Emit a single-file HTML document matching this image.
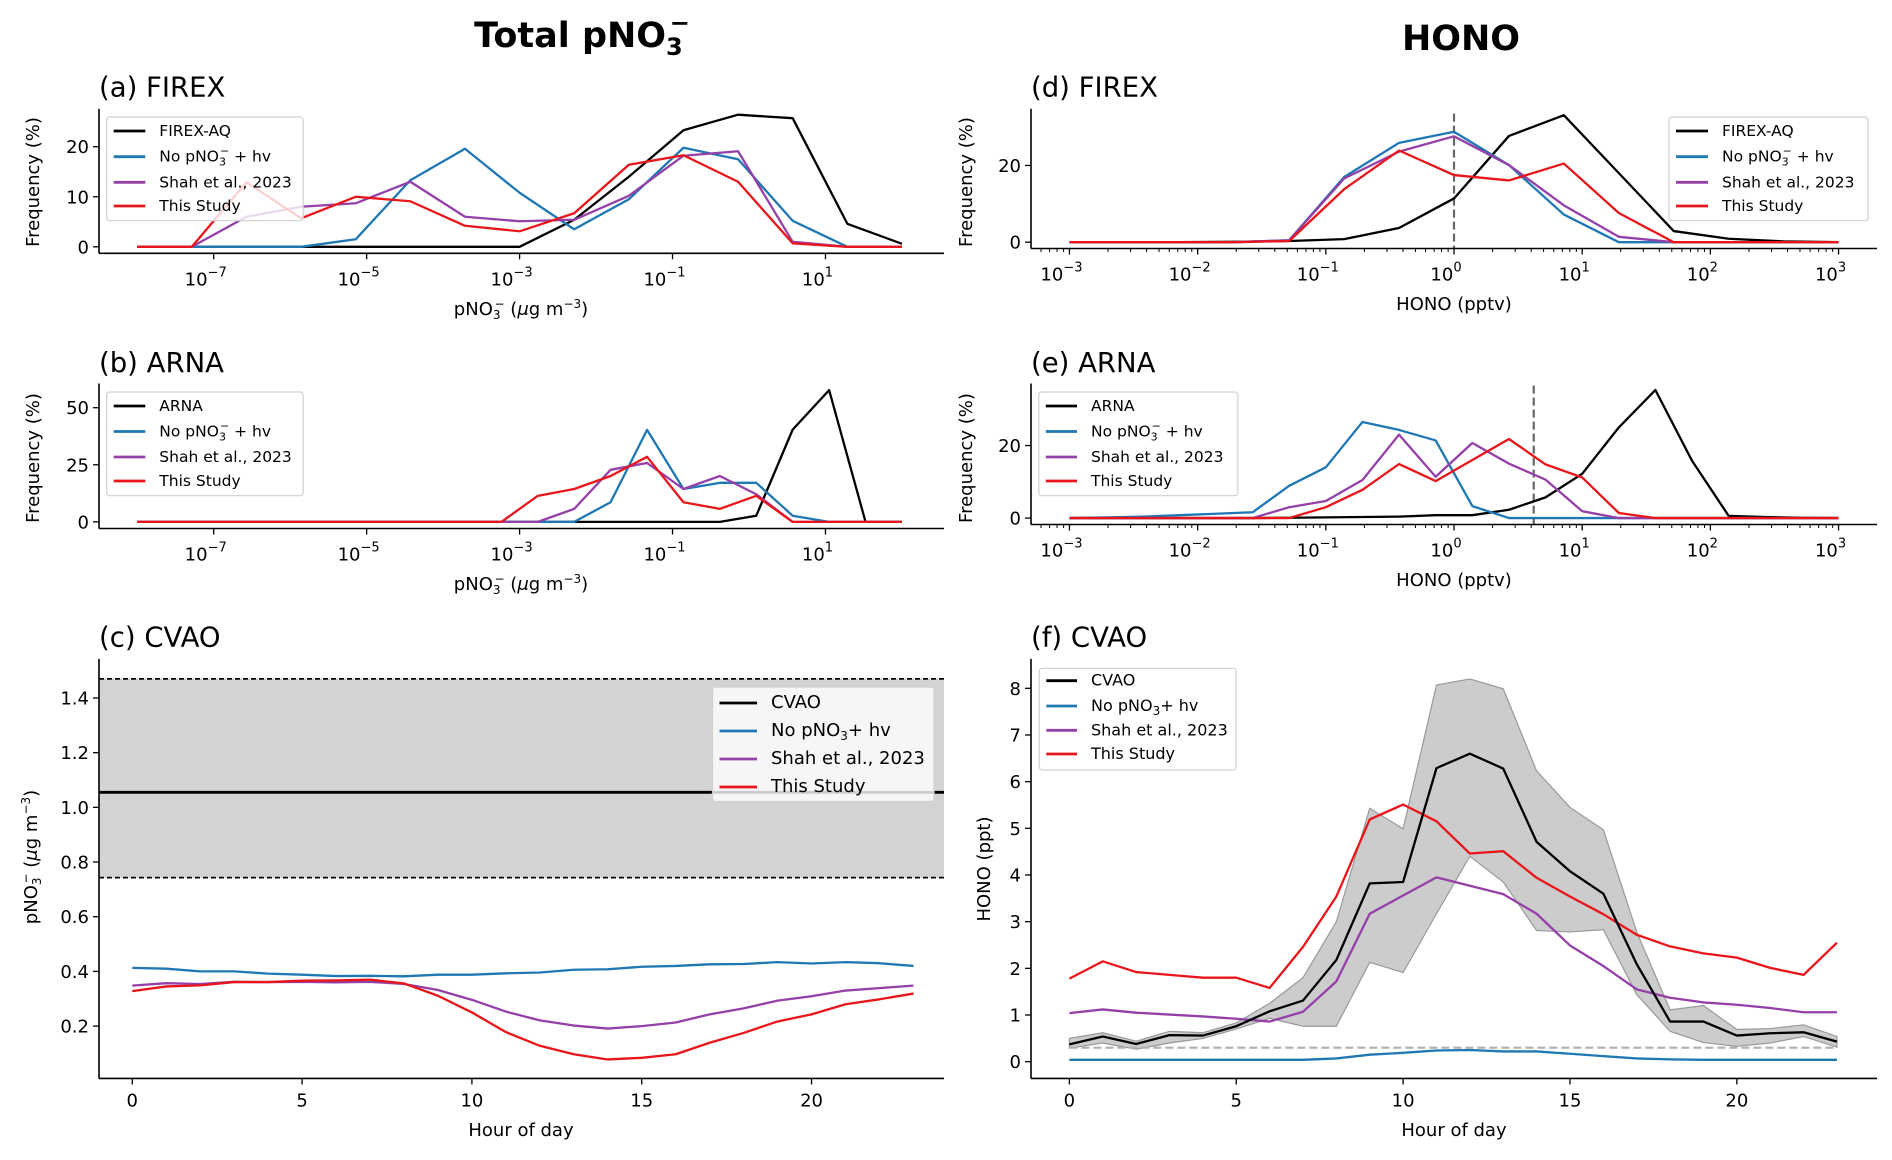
<!DOCTYPE html>
<html><head><meta charset="utf-8"><title>pNO3 and HONO comparison</title>
<style>
html,body{margin:0;padding:0;background:#fff;}
svg{display:block;font-family:"DejaVu Sans","Liberation Sans",sans-serif;}
</style></head>
<body>
<svg id="fig" width="1892" height="1160" viewBox="0 0 1892 1160" xmlns="http://www.w3.org/2000/svg">
<text x="582" y="47" font-size="35" font-weight="bold" text-anchor="middle">Total pNO<tspan font-size="24" dy="8">3</tspan><tspan font-size="24" dx="-13" dy="-24">−</tspan></text>
<text x="1461" y="50" font-size="35" font-weight="bold" text-anchor="middle">HONO</text>
</svg>
<script>
// ---------- data ----------
// panel a (FIREX pNO3), bins log10 exponents from -8 to 2, 15 bins
const aBins = [-8,-7.286,-6.571,-5.857,-5.143,-4.429,-3.714,-3,-2.286,-1.571,-0.857,-0.143,0.571,1.286,2];
const aObs    = [0,0,0,0,0,0,0,0,5.4,14,23.3,26.4,25.7,4.6,0.6];
const aNoHv   = [0,0,0,0,1.5,13.3,19.6,10.8,3.5,9.5,19.8,17.5,5.2,0,0];
const aShah   = [0,0,6.0,8.0,8.7,13,6,5.1,5.4,10.2,18.2,19.1,1,0,0];
const aThis   = [0,0,12.9,5.7,10,9.1,4.2,3.1,6.7,16.4,18.3,13,0.7,0,0];
// panel b (ARNA pNO3), 22 bins from -8 to 2
const bBins = [-8,-7.524,-7.048,-6.571,-6.095,-5.619,-5.143,-4.667,-4.190,-3.714,-3.238,-2.762,-2.286,-1.810,-1.333,-0.857,-0.381,0.095,0.571,1.048,1.524,2];
const bObs  = [0,0,0,0,0,0,0,0,0,0,0,0,0,0,0,0,0,2.7,40.4,57.7,0,0];
const bNoHv = [0,0,0,0,0,0,0,0,0,0,0,0,0,8.6,40.3,14.4,17.1,17.1,2.7,0,0,0];
const bShah = [0,0,0,0,0,0,0,0,0,0,0,0,5.7,22.8,25.8,14.4,20.1,12.1,0,0,0,0];
const bThis = [0,0,0,0,0,0,0,0,0,0,0,11.4,14.4,20.1,28.5,8.6,5.7,11.4,0,0,0,0];
// panel d (FIREX HONO), 15 bins -3..3
const dBins = [-3,-2.571,-2.143,-1.714,-1.286,-0.857,-0.429,0,0.429,0.857,1.286,1.714,2.143,2.571,3];
const dObs  = [0,0,0,0.1,0.3,0.8,3.7,11.4,27.7,33.1,18,2.9,0.9,0.2,0];
const dNoHv = [0,0,0,0,0.5,17,25.9,28.8,20.1,7.2,0,0,0,0,0];
const dShah = [0,0,0,0,0.5,16.6,23.6,27.6,20.1,9.6,1.4,0,0,0,0];
const dThis = [0,0,0,0,0.3,13.8,23.9,17.5,16.1,20.5,7.6,0,0,0,0];
const dRef = [0];
// panel e (ARNA HONO), 22 bins -3..3
const eBins = [-3,-2.714,-2.429,-2.143,-1.857,-1.571,-1.286,-1,-0.714,-0.429,-0.143,0.143,0.429,0.714,1,1.286,1.571,1.857,2.143,2.429,2.714,3];
const eObs  = [0,0,0,0,0,0,0.1,0.2,0.3,0.4,0.8,0.8,2.3,5.7,12.2,25,35.3,15.8,0.6,0.3,0.1,0];
const eNoHv = [0,0.2,0.4,0.8,1.2,1.6,8.9,14,26.5,24.3,21.4,3.3,0,0,0,0,0,0,0,0,0,0];
const eShah = [0,0,0,0,0,0,3,4.7,10.5,23,11.4,20.7,15,10.6,1.9,0,0,0,0,0,0,0];
const eThis = [0,0,0,0,0,0,0,3,7.8,14.9,10.2,16,21.8,14.8,11.2,1.4,0,0,0,0,0,0];
const eRef = [0.622];
// panels c and f: hour of day
const hours = [0,1,2,3,4,5,6,7,8,9,10,11,12,13,14,15,16,17,18,19,20,21,22,23];
const cNoHv = [0.413,0.41,0.40,0.40,0.392,0.388,0.383,0.384,0.382,0.388,0.388,0.393,0.396,0.406,0.408,0.417,0.42,0.426,0.427,0.434,0.429,0.434,0.43,0.42];
const cShah = [0.348,0.357,0.354,0.362,0.361,0.362,0.36,0.362,0.354,0.332,0.296,0.253,0.221,0.202,0.191,0.2,0.213,0.243,0.265,0.293,0.309,0.33,0.339,0.348];
const cThis = [0.328,0.345,0.349,0.361,0.361,0.366,0.367,0.37,0.356,0.311,0.25,0.178,0.128,0.097,0.078,0.084,0.097,0.139,0.175,0.217,0.243,0.28,0.298,0.319];
const cObsMean = [1.055];
const cObsRange = [0.743,1.47];
const fObs   = [0.37,0.54,0.38,0.57,0.56,0.76,1.08,1.31,2.18,3.82,3.85,6.29,6.6,6.28,4.71,4.08,3.6,2.09,0.86,0.86,0.56,0.61,0.63,0.43];
const fObsHi = [0.5,0.62,0.44,0.65,0.62,0.83,1.25,1.8,3.0,5.43,4.99,8.07,8.2,7.99,6.23,5.45,4.97,2.78,1.11,1.2,0.69,0.71,0.79,0.54];
const fObsLo = [0.29,0.4,0.27,0.4,0.5,0.7,0.93,0.76,0.76,2.13,1.91,3.17,4.4,3.85,2.81,2.78,2.83,1.44,0.65,0.41,0.33,0.4,0.54,0.31];
const fThis  = [1.78,2.15,1.92,1.86,1.8,1.8,1.58,2.46,3.54,5.19,5.51,5.15,4.46,4.51,3.94,3.54,3.16,2.72,2.47,2.32,2.23,2.01,1.86,2.55];
const fShah  = [1.04,1.12,1.05,1.01,0.97,0.92,0.86,1.07,1.72,3.17,3.56,3.95,3.77,3.59,3.17,2.49,2.05,1.55,1.37,1.27,1.22,1.15,1.06,1.06];
const fNoHv  = [0.04,0.04,0.04,0.04,0.04,0.04,0.04,0.04,0.07,0.15,0.19,0.24,0.25,0.22,0.22,0.17,0.12,0.07,0.05,0.04,0.04,0.04,0.04,0.04];
const fLimit = [0.3];
const logTicksAB = [-7,-5,-3,-1,1];
const logTicksDE = [-3,-2,-1,0,1,2,3];
const yTicksA = [0,10,20];
const yTicksB = [0,25,50];
const yTicksD = [0,20];
const yTicksE = [0,20];
const yTicksC = [0.2,0.4,0.6,0.8,1.0,1.2,1.4];
const yTicksF = [0,1,2,3,4,5,6,7,8];
const hourTicks = [0,5,10,15,20];

// ---------- drawing ----------
const NS = 'http://www.w3.org/2000/svg';
const svg = document.getElementById('fig');
const COL = {black:'#000000', blue:'#1f77b4', purple:'#9440a8', red:'#e8161b'};
function mk(tag, attrs, parent){
  const el = document.createElementNS(NS, tag);
  for (const k in attrs) el.setAttribute(k, attrs[k]);
  (parent||svg).appendChild(el);
  return el;
}
function axis(x0,x1,y0,y1,xmin,xmax,ymin,ymax){
  return {
    sx: v => x0 + (v - xmin) / (xmax - xmin) * (x1 - x0),
    sy: v => y1 - (v - ymin) / (ymax - ymin) * (y1 - y0),
    x0, x1, y0, y1
  };
}
function pathD(xs, ys, ax){
  return xs.map((x,i)=>(i?'L':'M')+ax.sx(x).toFixed(2)+','+ax.sy(ys[i]).toFixed(2)).join(' ');
}
function series(xs, ys, ax, color, name, w){
  const p = mk('path',{d:pathD(xs,ys,ax),fill:'none',stroke:color,'stroke-width':w||2.3,'stroke-linejoin':'round'});
  
  
  return p;
}
function spines(ax, pname){
  const l = mk('line',{x1:ax.x0,y1:ax.y0,x2:ax.x0,y2:ax.y1,stroke:'#000','stroke-width':1.6});
  
  
  const b = mk('line',{x1:ax.x0,y1:ax.y1,x2:ax.x1,y2:ax.y1,stroke:'#000','stroke-width':1.6});
  
  
}
function yTicks(ax, ticks, pname, fmt){
  ticks.forEach(t=>{
    const y = ax.sy(t);
    mk('line',{x1:ax.x0-6,y1:y,x2:ax.x0,y2:y,stroke:'#000','stroke-width':1.3});
    const tx = mk('text',{x:ax.x0-10,y:y+6.5,'font-size':18,'text-anchor':'end'});
    
    
    tx.textContent = fmt ? fmt(t) : String(t);
  });
}
function xTicksLin(ax, ticks, pname){
  ticks.forEach(t=>{
    const x = ax.sx(t);
    mk('line',{x1:x,y1:ax.y1,x2:x,y2:ax.y1+6,stroke:'#000','stroke-width':1.3});
    const tx = mk('text',{x:x,y:ax.y1+28,'font-size':18,'text-anchor':'middle'});
    
    
    tx.textContent = String(t);
  });
}
function xTicksLog(ax, ticks, pname, minor){
  ticks.forEach(t=>{
    const x = ax.sx(t);
    mk('line',{x1:x,y1:ax.y1,x2:x,y2:ax.y1+6,stroke:'#000','stroke-width':1.3});
    const tx = mk('text',{x:x-8,y:ax.y1+32,'font-size':18,'text-anchor':'middle'});
    
    
    const base = document.createElementNS(NS,'tspan'); base.textContent='10'; tx.appendChild(base);
    const ex = document.createElementNS(NS,'tspan');
    ex.setAttribute('dy','-9'); ex.setAttribute('font-size','13');
    ex.textContent = (t<0?'−':'') + Math.abs(t);
    tx.appendChild(ex);
  });
  if (minor){
    for (let d = Math.floor(ax.lmin); d < ax.lmax; d++){
      for (let m = 2; m < 10; m++){
        const lv = d + Math.log10(m);
        if (lv < ax.lmin || lv > ax.lmax) continue;
        const x = ax.sx(lv);
        mk('line',{x1:x,y1:ax.y1,x2:x,y2:ax.y1+3.5,stroke:'#000','stroke-width':1});
      }
    }
  }
}
function label(x,y,txt,pname,size,rot,anchor){
  const t = mk('text',{x:x,y:y,'font-size':size||18,'text-anchor':anchor||'middle'});
  if (rot) t.setAttribute('transform','rotate(-90 '+x+' '+y+')');
  
  
  t.innerHTML = txt;
  return t;
}
function legend(x,y,w,h,entries,rows,textX,pname,fs){
  const g = mk('g',{});
  
  
  mk('rect',{x:x,y:y,width:w,height:h,rx:3,fill:'#ffffff','fill-opacity':0.8,stroke:'#d0d0d0','stroke-width':1.2},g);
  entries.forEach((e,i)=>{
    const yy = rows[i];
    mk('line',{x1:x+7,y1:yy-5,x2:textX-14,y2:yy-5,stroke:e[0],'stroke-width':2.8},g);
    const t = mk('text',{x:textX,y:yy,'font-size':fs||15.5},g);
    
    
    t.innerHTML = e[1];
  });
}
const noHvSup = 'No pNO<tspan font-size="11" dy="4">3</tspan><tspan font-size="11" dx="-6" dy="-11">−</tspan><tspan dy="7"> + hv</tspan>';
const noHvSub = 'No pNO<tspan font-size="12" dy="4">3</tspan><tspan dy="-4">+ hv</tspan>';
const pno3Label = 'pNO<tspan font-size="12" dy="4">3</tspan><tspan font-size="12" dx="-6" dy="-11">−</tspan><tspan dy="7">  (</tspan><tspan font-style="italic">μ</tspan>g m<tspan font-size="12" dy="-7">−3</tspan><tspan dy="7">)</tspan>';

// ----- Panel a -----
(function(){
  const ax = axis(99,944,108.7,253.3,-8.5,2.55,-1.3,27.6);
  ax.lmin=-8.5; ax.lmax=2.55;
  label(99,96.7,'(a) FIREX','panel-a-title',27.5,false,'start');
  series(aBins,aObs,ax,COL.black,'a-firex-aq-line');
  series(aBins,aNoHv,ax,COL.blue,'a-no-pno3-hv-line');
  series(aBins,aShah,ax,COL.purple,'a-shah-2023-line');
  series(aBins,aThis,ax,COL.red,'a-this-study-line');
  spines(ax,'a'); yTicks(ax,yTicksA,'a'); xTicksLog(ax,logTicksAB,'a',false);
  label(521,315,pno3Label,'a-x-axis-title',18);
  label(39,182,'Frequency (%)','a-y-axis-title',18,true);
  legend(106.7,117,196.5,103.7,[[COL.black,'FIREX-AQ'],[COL.blue,noHvSup],[COL.purple,'Shah et al., 2023'],[COL.red,'This Study']],[136,161.7,187.3,211],159.3,'a');
})();
// ----- Panel b -----
(function(){
  const ax = axis(99,944,383.5,528.5,-8.5,2.55,-2.9,60.6);
  ax.lmin=-8.5; ax.lmax=2.55;
  label(99,372,'(b) ARNA','panel-b-title',27.5,false,'start');
  series(bBins,bObs,ax,COL.black,'b-arna-line');
  series(bBins,bNoHv,ax,COL.blue,'b-no-pno3-hv-line');
  series(bBins,bShah,ax,COL.purple,'b-shah-2023-line');
  series(bBins,bThis,ax,COL.red,'b-this-study-line');
  spines(ax,'b'); yTicks(ax,yTicksB,'b'); xTicksLog(ax,logTicksAB,'b',false);
  label(521,590,pno3Label,'b-x-axis-title',18);
  label(39,458,'Frequency (%)','b-y-axis-title',18,true);
  legend(106.7,392,196.5,103.7,[[COL.black,'ARNA'],[COL.blue,noHvSup],[COL.purple,'Shah et al., 2023'],[COL.red,'This Study']],[411,436.5,462,486],159.3,'b');
})();
// ----- Panel d -----
(function(){
  const ax = axis(1031,1877,108.7,248.5,-3.3,3.3,-1.65,34.8);
  ax.lmin=-3.3; ax.lmax=3.3;
  label(1031,96.7,'(d) FIREX','panel-d-title',27.5,false,'start');
  const dl = mk('line',{x1:ax.sx(dRef[0]),y1:ax.sy(33.5),x2:ax.sx(dRef[0]),y2:ax.y1,stroke:'#666','stroke-width':2.2,'stroke-dasharray':'8,4'});
  
  
  series(dBins,dObs,ax,COL.black,'d-firex-aq-line');
  series(dBins,dNoHv,ax,COL.blue,'d-no-pno3-hv-line');
  series(dBins,dShah,ax,COL.purple,'d-shah-2023-line');
  series(dBins,dThis,ax,COL.red,'d-this-study-line');
  spines(ax,'d'); yTicks(ax,yTicksD,'d'); xTicksLog(ax,logTicksDE,'d',true);
  label(1454,310,'HONO (pptv)','d-x-axis-title',18);
  label(972,182,'Frequency (%)','d-y-axis-title',18,true);
  legend(1669,117,199,103.7,[[COL.black,'FIREX-AQ'],[COL.blue,noHvSup],[COL.purple,'Shah et al., 2023'],[COL.red,'This Study']],[136,161.7,187.3,211],1722,'d');
})();
// ----- Panel e -----
(function(){
  const ax = axis(1031,1877,383.5,524.5,-3.3,3.3,-1.77,37.1);
  ax.lmin=-3.3; ax.lmax=3.3;
  label(1031,372,'(e) ARNA','panel-e-title',27.5,false,'start');
  const dl = mk('line',{x1:ax.sx(eRef[0]),y1:ax.sy(36.5),x2:ax.sx(eRef[0]),y2:ax.y1,stroke:'#666','stroke-width':2.2,'stroke-dasharray':'8,4'});
  
  
  series(eBins,eObs,ax,COL.black,'e-arna-line');
  series(eBins,eNoHv,ax,COL.blue,'e-no-pno3-hv-line');
  series(eBins,eShah,ax,COL.purple,'e-shah-2023-line');
  series(eBins,eThis,ax,COL.red,'e-this-study-line');
  spines(ax,'e'); yTicks(ax,yTicksE,'e'); xTicksLog(ax,logTicksDE,'e',true);
  label(1454,586,'HONO (pptv)','e-x-axis-title',18);
  label(972,458,'Frequency (%)','e-y-axis-title',18,true);
  legend(1038.8,392,199,103.7,[[COL.black,'ARNA'],[COL.blue,noHvSup],[COL.purple,'Shah et al., 2023'],[COL.red,'This Study']],[411,436.5,462,486],1091,'e');
})();
// ----- Panel c -----
(function(){
  const ax = axis(99,944,658.9,1078.4,-0.98,23.9,0.0087,1.543);
  label(99,646.4,'(c) CVAO','panel-c-title',27.5,false,'start');
  const band = mk('rect',{x:ax.x0,y:ax.sy(cObsRange[1]),width:ax.x1-ax.x0,height:ax.sy(cObsRange[0])-ax.sy(cObsRange[1]),fill:'#d3d3d3'});
  
  
  cObsRange.forEach(v=>{
    const l = mk('line',{x1:ax.x0,y1:ax.sy(v),x2:ax.x1,y2:ax.sy(v),stroke:'#000','stroke-width':1.8,'stroke-dasharray':'5,3'});
    
    
  });
  const ml = mk('line',{x1:ax.x0,y1:ax.sy(cObsMean[0]),x2:ax.x1,y2:ax.sy(cObsMean[0]),stroke:'#000','stroke-width':2.8});
  
  
  series(hours,cNoHv,ax,COL.blue,'c-no-pno3-hv-line');
  series(hours,cShah,ax,COL.purple,'c-shah-2023-line');
  series(hours,cThis,ax,COL.red,'c-this-study-line');
  spines(ax,'c'); yTicks(ax,yTicksC,'c',t=>t.toFixed(1)); xTicksLin(ax,hourTicks,'c');
  label(521,1136,'Hour of day','c-x-axis-title',18);
  label(37,857,'pNO<tspan font-size="12" dy="4">3</tspan><tspan font-size="12" dx="-6" dy="-11">−</tspan><tspan dy="7">  (</tspan><tspan font-style="italic">μ</tspan>g m<tspan font-size="12" dy="-7">−3</tspan><tspan dy="7">)</tspan>','c-y-axis-title',18,true);
  legend(712.5,687,221.5,114.5,[[COL.black,'CVAO'],[COL.blue,noHvSub],[COL.purple,'Shah et al., 2023'],[COL.red,'This Study']],[708,736,764,792],771,'c',18);
})();
// ----- Panel f -----
(function(){
  const ax = axis(1031,1877,658.9,1078.4,-1.15,24.2,-0.358,8.63);
  label(1031,646.4,'(f) CVAO','panel-f-title',27.5,false,'start');
  const up = hours.map((h,i)=>ax.sx(h).toFixed(2)+','+ax.sy(fObsHi[i]).toFixed(2));
  const lo = hours.map((h,i)=>ax.sx(h).toFixed(2)+','+ax.sy(fObsLo[i]).toFixed(2)).reverse();
  const band = mk('polygon',{points:up.concat(lo).join(' '),fill:'#cccccc',stroke:'#999999','stroke-width':1.2});
  
  
  const lim = mk('line',{x1:ax.sx(hours[0]),y1:ax.sy(fLimit[0]),x2:ax.sx(hours[hours.length-1]),y2:ax.sy(fLimit[0]),stroke:'#b0b0b0','stroke-width':2.2,'stroke-dasharray':'8,4'});
  
  
  series(hours,fNoHv,ax,COL.blue,'f-no-pno3-hv-line');
  series(hours,fShah,ax,COL.purple,'f-shah-2023-line');
  series(hours,fThis,ax,COL.red,'f-this-study-line');
  series(hours,fObs,ax,COL.black,'f-cvao-line');
  spines(ax,'f'); yTicks(ax,yTicksF,'f'); xTicksLin(ax,hourTicks,'f');
  label(1454,1136,'Hour of day','f-x-axis-title',18);
  label(990,869,'HONO (ppt)','f-y-axis-title',18,true);
  legend(1039.3,668.3,196.7,101.7,[[COL.black,'CVAO'],[COL.blue,noHvSub],[COL.purple,'Shah et al., 2023'],[COL.red,'This Study']],[685.7,711,735.3,759],1091,'f',16);
})();
</script>
</body></html>
